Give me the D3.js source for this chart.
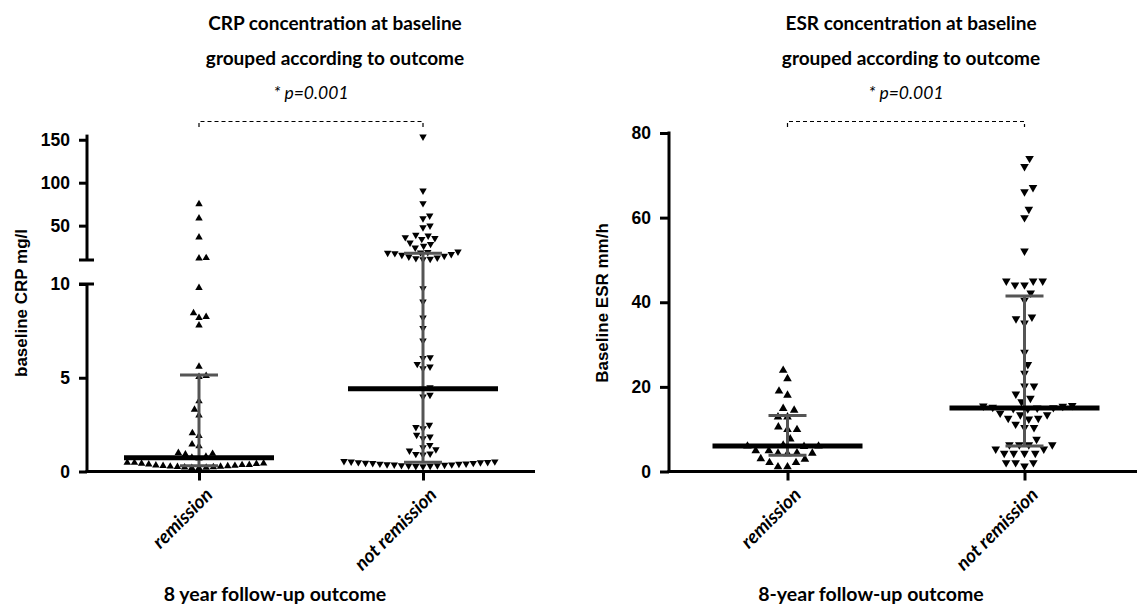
<!DOCTYPE html>
<html>
  <head>
    <meta charset="utf-8">
    <title>CRP and ESR at baseline by outcome</title>
    <script src="https://cdn.jsdelivr.net/npm/d3@7"></script>
    <style>
      body { margin: 0; background: #fff; }
      text { fill: #000; }
      .title { font-family: Lato, sans-serif; font-weight: bold; font-size: 19px; text-anchor: middle; }
      .pval { font-family: Lato, sans-serif; font-style: italic; font-size: 17.5px; text-anchor: middle; }
      .ytitle { font-family: "Liberation Sans", Arial, sans-serif; font-weight: bold; font-size: 17px; text-anchor: middle; }
      .xtitle { font-family: Lato, sans-serif; font-weight: bold; font-size: 19.5px; text-anchor: middle; }
      .axis path, .axis line { stroke: #000; stroke-width: 3; }
      .yaxis text { font-family: "Liberation Sans", Arial, sans-serif; font-weight: bold; font-size: 17.5px; }
      .xaxis text { font-family: Lato, sans-serif; font-weight: bold; font-style: italic; font-size: 19px; }
      .errbar { stroke: #555; stroke-width: 3; fill: none; }
      .median { stroke: #000; stroke-width: 5; }
      .bracket { stroke: #000; stroke-width: 1.2; stroke-dasharray: 4 3; fill: none; }
    </style>
  </head>
  <body>
    <svg id="chart" width="1137" height="606"></svg>
    <script>
      // categories
      groups = ["remission", "not remission"];
      // baseline CRP (mg/l)
      crpRemission = [75, 58.5, 36.4, 12.4, 12, 9.8, 8.45, 8.25, 8.2, 7.8, 5.6, 5.1, 5.05,
        3.75, 3.3, 3.0, 2.05, 1.9, 1.45, 1.35, 1.0, 0.95, 0.92, 0.8, 0.75, 0.7,
        0.48, 0.47, 0.44, 0.42, 0.41, 0.38, 0.36, 0.35, 0.33, 0.31, 0.3, 0.29,
        0.27, 0.26, 0.25, 0.24, 0.22, 0.21, 0.2, 0.19];
      crpNotRemission = [153.5, 90.7, 76, 61.6, 58.5, 49.9, 48, 39.1, 38.3, 36.4, 35.3, 34.4,
        30.1, 28.6, 26.3, 24.3, 19.8, 19.2, 18.7, 18.2, 17.8, 16.8, 15.8, 14.8, 13.8, 12.8,
        12.0, 11.3, 10.8,
        9.77, 9.06, 8.2, 7.64, 6.98, 6.09, 6.05, 5.73, 5.59, 5.5, 4.49, 4.4, 4.08, 3.99,
        2.48, 2.36, 2.3, 1.95, 1.86, 1.77, 1.41, 1.29, 1.18, 1.11, 0.95, 0.93, 0.9,
        0.55, 0.53, 0.52, 0.5, 0.49, 0.48, 0.46, 0.45, 0.44, 0.42, 0.41,
        0.4, 0.38, 0.37, 0.36, 0.35, 0.33, 0.32, 0.31, 0.3, 0.28, 0.27];
      // median and interquartile range per group
      crpMedian = [0.74, 4.42];
      crpQ1 = [0.31, 0.49];
      crpQ3 = [5.15, 17.8];
      // baseline ESR (mm/h)
      esrRemission = [23.9, 21.9, 19, 18, 14.9, 14.5, 12.9, 12.9, 10.5, 9.9, 9.9, 7.7,
        6.2, 6.0, 6.0, 5.9, 4.9, 4.9, 4.4, 4.3, 4.3, 4.2, 3.0, 2.9, 2.1, 2.1, 1.1, 1.1];
      esrNotRemission = [74, 72.1, 67.1, 66.1, 62, 60, 52.1, 45, 45, 45, 44.1, 44.1, 42.2,
        40.5, 36.5, 36.1, 35.1, 28.2, 25.3, 23.2, 20.2, 20.2, 18.3, 17.3, 16.5,
        15.6, 15.5, 15.4, 15.2, 15.1, 15, 14.9, 14.8, 13.8, 13.4, 13.4, 12.6, 12.6, 12.4,
        11.2, 10.4, 10.4, 7.6, 6.3, 6.3, 6.3, 6.3, 5.3, 5.3, 4.3, 4.3, 4.3, 4.3,
        2.1, 2.1, 2.1, 1.3];
      esrMedian = [6.0, 15.0];
      esrQ1 = [3.87, 6.0];
      esrQ3 = [13.25, 41.5];
      // tick labels
      crpLowTicks = [0, 5, 10];
      crpHighTicks = [50, 100, 150];
      esrTicks = [0, 20, 40, 60, 80];

      svg = d3.select("#chart");

      // simple beeswarm: place points bottom-up, as close to the centre as allowed
      function swarm(values, yOf, d) {
        let pts = values.map(function(v) { return { v: v, y: yOf(v) }; })
          .sort(function(a, b) { return b.y - a.y; });
        let placed = [];
        pts.forEach(function(p, i) {
          let near = placed.filter(function(q) { return Math.abs(q.y - p.y) < d; });
          let cands = [0];
          near.forEach(function(q) {
            let w = Math.sqrt(d * d - (q.y - p.y) * (q.y - p.y));
            if (i % 2) cands.push(q.dx - w, q.dx + w);
            else cands.push(q.dx + w, q.dx - w);
          });
          cands.sort(function(a, b) { return Math.abs(a) - Math.abs(b); });
          p.dx = cands.find(function(c) {
            return near.every(function(q) {
              return (c - q.dx) * (c - q.dx) + (p.y - q.y) * (p.y - q.y) >= d * d - 1e-6;
            });
          });
          placed.push(p);
        });
        return pts;
      }

      function drawPanel(o) {
        let g = svg.append("g");
        let x = d3.scalePoint().domain(groups).range(o.xRange).padding(0.5);
        let baseY = o.y(0);
        // points
        [o.a, o.b].forEach(function(vals, i) {
          let shape = d3.symbol(d3.symbolTriangle, o.size);
          g.append("g").selectAll("path")
            .data(swarm(vals, o.y, o.gap))
            .enter().append("path")
              .attr("d", shape)
              .attr("fill", "#000")
              .attr("transform", function(d) {
                return "translate(" + (x(groups[i]) + d.dx) + "," + d.y + ")" + (i ? " rotate(180)" : "");
              });
        });
        // interquartile bars
        groups.forEach(function(grp, i) {
          let cx = x(grp);
          g.append("line").attr("class", "errbar")
            .attr("x1", cx).attr("x2", cx)
            .attr("y1", o.y(o.q1[i])).attr("y2", o.y(o.q3[i]));
          [o.q1[i], o.q3[i]].forEach(function(q) {
            g.append("line").attr("class", "errbar")
              .attr("x1", cx - 19).attr("x2", cx + 19)
              .attr("y1", o.y(q)).attr("y2", o.y(q));
          });
        });
        // medians
        groups.forEach(function(grp, i) {
          g.append("line").attr("class", "median")
            .attr("x1", x(grp) - 75).attr("x2", x(grp) + 75)
            .attr("y1", o.y(o.median[i])).attr("y2", o.y(o.median[i]));
        });
        // x axis
        let xAxis = g.append("g")
          .attr("class", "axis xaxis")
          .attr("transform", "translate(0," + baseY + ")")
          .call(d3.axisBottom(x).tickSize(9).tickSizeOuter(0));
        xAxis.select(".domain").attr("d", "M" + (o.xRange[0] - 1.5) + ",0H" + o.xRange[1]);
        xAxis.selectAll("text")
          .attr("x", 0).attr("y", 0).attr("dy", "0.55em")
          .style("text-anchor", "end")
          .attr("transform", "translate(7,17) rotate(-45)");
        // titles
        o.title.forEach(function(t, i) {
          g.append("text").attr("class", "title")
            .attr("x", o.titleX).attr("y", 30 + i * 35).text(t);
        });
        let x0 = x(groups[0]), x1 = x(groups[1]);
        g.append("text").attr("class", "pval")
          .attr("x", (x0 + x1) / 2).attr("y", 99).text("* p=0.001");
        g.append("path").attr("class", "bracket")
          .attr("d", "M" + x0 + ",127V121.5H" + x1 + "V127");
        g.append("text").attr("class", "xtitle")
          .attr("x", o.xTitleX).attr("y", 601).text(o.xTitle);
        g.append("text").attr("class", "ytitle")
          .attr("transform", "translate(" + o.yTitleX + ",303) rotate(-90)")
          .text(o.yTitle);
        return g;
      }

      // CRP panel with a broken y axis
      crpLow = d3.scaleLinear().domain([0, 10]).range([471.5, 284]);
      crpHigh = d3.scaleLinear().domain([10, 156]).range([260, 134.6]);
      crpY = function(v) { return v <= 10 ? crpLow(v) : crpHigh(v); };
      crpPanel = drawPanel({
        a: crpRemission, b: crpNotRemission,
        median: crpMedian, q1: crpQ1, q3: crpQ3,
        y: crpY, xRange: [87, 535], size: 24, gap: 7.2,
        title: ["CRP concentration at baseline", "grouped according to outcome"],
        titleX: 335, xTitle: "8 year follow-up outcome", xTitleX: 275,
        yTitle: "baseline CRP mg/l", yTitleX: 26.5
      });
      [[crpLow, crpLowTicks], [crpHigh, crpHighTicks]].forEach(function(s) {
        let ax = crpPanel.append("g")
          .attr("class", "axis yaxis")
          .attr("transform", "translate(87,0)")
          .call(d3.axisLeft(s[0]).tickValues(s[1]).tickSize(8).tickSizeOuter(0).tickPadding(9));
        let r = s[0].range();
        ax.select(".domain").attr("d", "M0," + (r[0] + (s[0] === crpLow ? 1.5 : 0)) + "V" + r[1]);
        // break marks at the segment ends
        ax.append("line").attr("x1", -8).attr("x2", 7)
          .attr("y1", s[0](10)).attr("y2", s[0](10));
      });

      // ESR panel
      esrY = d3.scaleLinear().domain([0, 80]).range([471.5, 133]);
      esrPanel = drawPanel({
        a: esrRemission, b: esrNotRemission,
        median: esrMedian, q1: esrQ1, q3: esrQ3,
        y: esrY, xRange: [669, 1143], size: 32, gap: 9.5,
        title: ["ESR concentration at baseline", "grouped according to outcome"],
        titleX: 911, xTitle: "8-year follow-up outcome", xTitleX: 871,
        yTitle: "Baseline ESR mm/h", yTitleX: 608
      });
      esrAxis = esrPanel.append("g")
        .attr("class", "axis yaxis")
        .attr("transform", "translate(669,0)")
        .call(d3.axisLeft(esrY).tickValues(esrTicks).tickSize(9).tickSizeOuter(0).tickPadding(9));
      esrAxis.select(".domain").attr("d", "M0,473V131.5");
    </script>
  </body>
</html>
